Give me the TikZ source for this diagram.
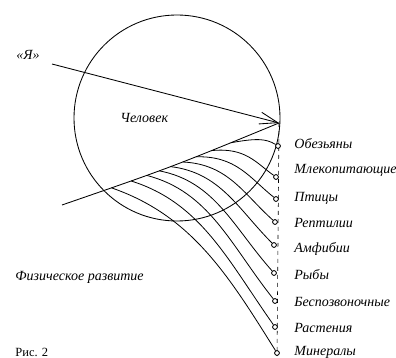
\documentclass[tikz,border=0pt]{standalone}
\usepackage{fontspec}
\setmainfont{Liberation Serif}
\usetikzlibrary{arrows.meta,calc}
\begin{document}
\begin{tikzpicture}[x=1pt,y=-1pt, line width=0.85pt,
  lbl/.style={font=\fontsize{14}{16}\selectfont\itshape, anchor=west, inner sep=0pt},
  dot/.style={circle, draw, fill=white, inner sep=0pt, minimum size=4.8pt, line width=0.85pt},
  branch/.style={line width=0.8pt},
  dashline/.style={line width=0.6pt, dash pattern=on 4pt off 4pt}]
\useasboundingbox (0,0) rectangle (396,358);
% main circle
\draw (177,118) circle[radius=103];
% key points
\coordinate (ya) at (52,64);
\coordinate (tip) at (279,123);
\coordinate (low) at (62,205);
\coordinate (bot) at (277,356);
% lower line with start points of branches
\draw (low) .. controls (172,167) .. (tip)
  coordinate[pos=0.823] (s0) coordinate[pos=0.730] (s1) coordinate[pos=0.646] (s2)
  coordinate[pos=0.568] (s3) coordinate[pos=0.494] (s4) coordinate[pos=0.425] (s5)
  coordinate[pos=0.352] (s6) coordinate[pos=0.269] (s7) coordinate[pos=0.178] (s8);
% arrow
\draw[-{Straight Barb[length=18pt,width=12pt]}] (ya) -- (tip);
% dashed vertical
\draw[dashline] (tip) -- (bot);
% end dots
\node[dot] (e0) at (278,146) {};
\node[dot] (e1) at (276,177) {};
\node[dot] (e2) at (276,199) {};
\node[dot] (e3) at (275,222) {};
\node[dot] (e4) at (274,245) {};
\node[dot] (e5) at (274,273) {};
\node[dot] (e6) at (275,301) {};
\node[dot] (e7) at (275,327) {};
\node[dot] (e8) at (277,353) {};
% branches (explicit control points, screen angles measured downwards)
\foreach \i/\sx/\sy/\ex/\ey in {0/241/138.4/278/146, 1/221/146.3/276/177, 2/202.9/153.4/276/199,
  3/186/159.9/275/222, 4/169.9/166/274/245, 5/155/171.6/274/273, 6/139.1/177.5/275/301,
  7/121/184.1/275/327, 8/101.1/191.3/277/353}{
  \pgfmathsetmacro{\a}{1.875*\i}
  \pgfmathsetmacro{\b}{32+3.25*\i}
  \pgfmathsetmacro{\d}{0.39*veclen(\ex-\sx,\ey-\sy)}
  \pgfmathsetmacro{\cax}{\sx+\d*cos(\a)}
  \pgfmathsetmacro{\cay}{\sy+\d*sin(\a)}
  \pgfmathsetmacro{\cbx}{\ex-\d*cos(\b)}
  \pgfmathsetmacro{\cby}{\ey-\d*sin(\b)}
  \draw[branch] (s\i) .. controls (\cax,\cay) and (\cbx,\cby) .. (e\i);
}
% labels
\node[lbl] (l0) at (294,144) {Обезьяны};
\node[lbl] (l1) at (294,170) {Млекопитающие};
\node[lbl] (l2) at (294,198) {Птицы};
\node[lbl] (l3) at (294,223) {Рептилии};
\node[lbl] (l4) at (294,249) {Амфибии};
\node[lbl] (l5) at (294,275) {Рыбы};
\node[lbl] (l6) at (294,302) {Беспозвоночные};
\node[lbl] (l7) at (294,328) {Растения};
\node[lbl] (l8) at (294,352) {Минералы};
\node[lbl] (ich) at (16,55) {«Я»};
\node[lbl] (man) at (120,118) {Человек};
\node[lbl] (phys) at (15,277) {Физическое развитие};
\node[font=\fontsize{12.5}{14}\selectfont, anchor=west, inner sep=0pt] (fig) at (15,352) {Рис. 2};
\end{tikzpicture}
\end{document}
